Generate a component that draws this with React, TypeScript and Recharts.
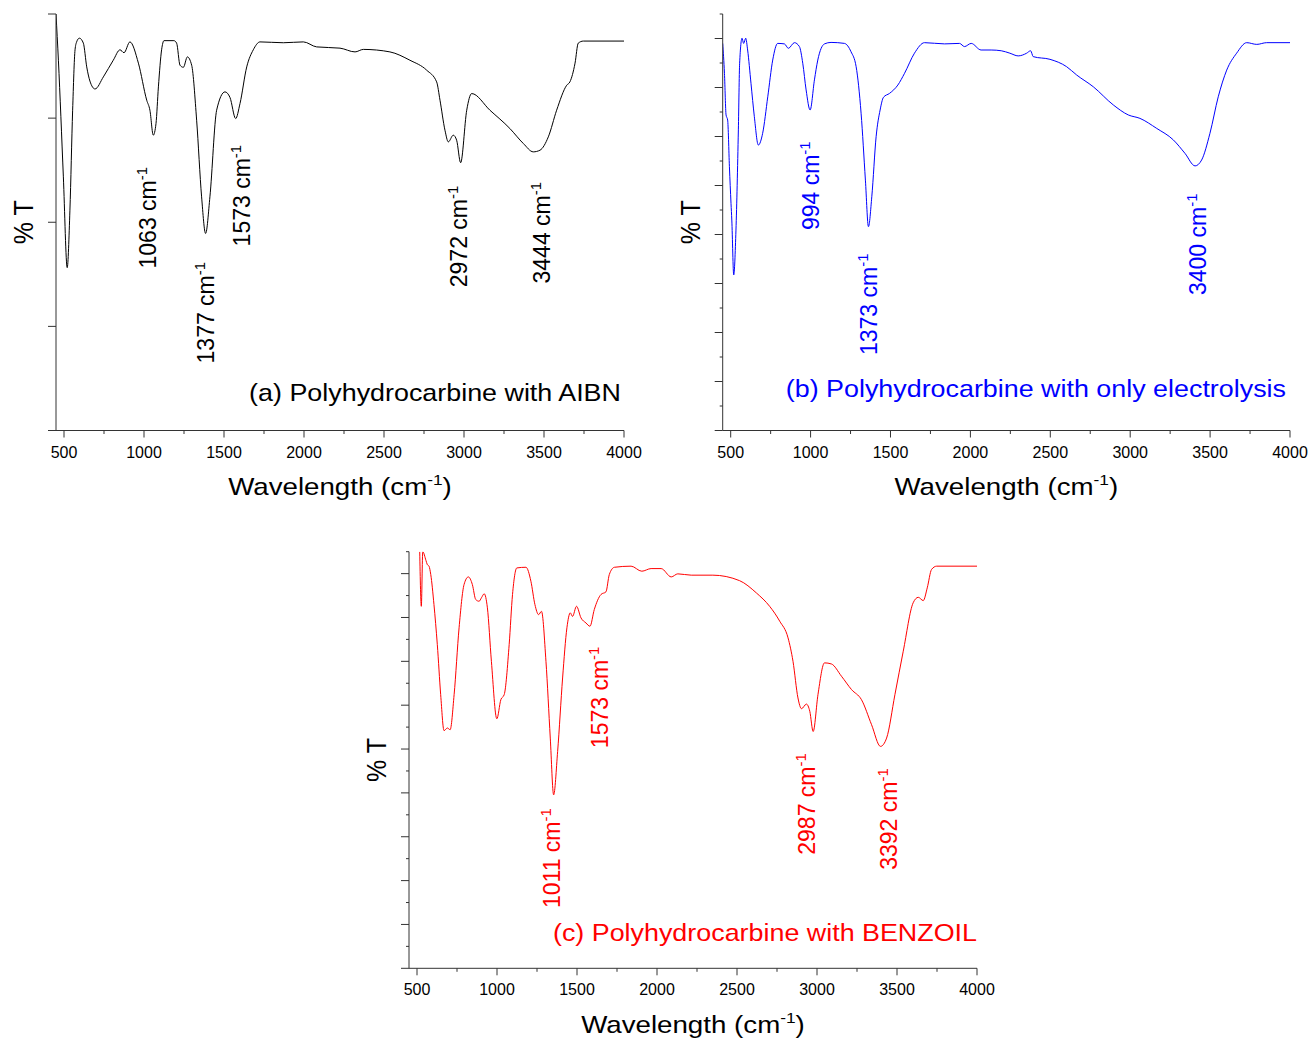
import React from "react";
import { LineChart, Line, XAxis, YAxis, ReferenceDot } from "recharts";

const FONT = '"Liberation Sans", Arial, Helvetica, sans-serif';
const AXIS = "#333";
const SX = 1.12; // the source figure is a bit stretched sideways

// wavenumber axis, shared by the three spectra
const xTicks = [500, 750, 1000, 1250, 1500, 1750, 2000, 2250, 2500, 2750, 3000, 3250, 3500, 3750, 4000];

// (a) with AIBN, %T on a 0..100 scale
const wnA = [450, 465, 496, 520, 537, 554, 569, 579, 596, 621, 642, 662, 694, 746, 808, 850, 875, 912, 965, 1017, 1037, 1058, 1075, 1090, 1110, 1125, 1187, 1204, 1225, 1246, 1271, 1298, 1329, 1360, 1385, 1412, 1454, 1506, 1537, 1573, 1600, 1642, 1683, 1725, 1871, 1996, 2079, 2225, 2319, 2371, 2537, 2662, 2767, 2829, 2850, 2881, 2902, 2933, 2954, 2979, 3017, 3048, 3162, 3287, 3371, 3433, 3475, 3527, 3579, 3642, 3662, 3694, 3714, 3746, 4000];
const tA = [100, 88.9, 60.9, 39.1, 52.9, 76.9, 91.4, 93.3, 94.2, 93.0, 87.3, 83.9, 82.0, 84.9, 88.9, 91.4, 90.7, 93.3, 88.2, 79.3, 76.9, 70.9, 73.7, 82.5, 91.4, 93.6, 93.6, 93.0, 87.7, 87.2, 89.7, 87.7, 74.5, 56.1, 47.3, 56.1, 76.9, 81.3, 80.0, 74.9, 78.5, 87.3, 91.4, 93.3, 93.1, 93.3, 92.1, 91.8, 90.9, 91.5, 90.9, 88.9, 86.5, 83.7, 79.3, 72.1, 69.3, 70.9, 69.7, 64.3, 76.9, 80.9, 76.9, 72.5, 68.9, 66.9, 67.3, 70.5, 76.9, 82.9, 83.7, 88.2, 93.0, 93.5, 93.5];
const yTicksA = [0, 25, 50, 75, 100];
const peaksA = [
  { label: "1063", wn: 1075, t: 38.9 },
  { label: "1377", wn: 1435, t: 16.1 },
  { label: "1573", wn: 1662, t: 44.2 },
  { label: "2972", wn: 3019, t: 34.4 },
  { label: "3444", wn: 3537, t: 35.3 },
];

// (b) only electrolysis, %T in tick units
const wnB = [450, 461, 471, 481, 492, 502, 507, 519, 533, 548, 556, 571, 581, 594, 606, 627, 648, 673, 700, 732, 763, 794, 836, 861, 899, 930, 951, 972, 997, 1024, 1045, 1087, 1128, 1212, 1253, 1285, 1316, 1343, 1362, 1383, 1410, 1435, 1456, 1494, 1546, 1588, 1650, 1713, 1838, 1932, 1963, 2005, 2067, 2130, 2193, 2247, 2299, 2352, 2377, 2393, 2498, 2602, 2665, 2769, 2894, 2988, 3061, 3166, 3270, 3343, 3406, 3447, 3499, 3551, 3604, 3666, 3729, 3792, 3854, 4000];
const tB = [15.8, 14.58, 12.88, 12.67, 10.77, 9.27, 8.59, 6.35, 8.18, 12.27, 14.99, 16.01, 15.8, 16.01, 15.53, 14.17, 12.81, 11.65, 12.13, 13.62, 15.12, 15.8, 15.78, 15.6, 15.83, 15.67, 14.99, 13.9, 13.08, 14.31, 15.12, 15.78, 15.84, 15.8, 15.46, 14.85, 12.95, 10.22, 8.32, 9.54, 11.99, 13.08, 13.6, 13.76, 14.1, 14.58, 15.4, 15.83, 15.78, 15.8, 15.67, 15.8, 15.53, 15.53, 15.5, 15.4, 15.29, 15.4, 15.5, 15.26, 15.15, 14.85, 14.51, 14.03, 13.29, 12.88, 12.74, 12.33, 11.86, 11.31, 10.8, 11.04, 12.13, 13.62, 14.71, 15.4, 15.83, 15.76, 15.83, 15.83];
const yTicksB = [0, 1, 2, 3, 4, 5, 6, 7, 8, 9, 10, 11, 12, 13, 14, 15, 16, 17];
const peaksB = [
  { label: "994", wn: 1053, t: 8.18 },
  { label: "1373", wn: 1415, t: 3.08 },
  { label: "3400", wn: 3474, t: 5.53 },
];

// (c) with BENZOIL
const wnC = [517, 527, 536, 556, 564, 575, 586, 606, 627, 648, 669, 690, 707, 732, 763, 794, 821, 846, 867, 888, 903, 920, 940, 965, 999, 1024, 1045, 1076, 1097, 1124, 1181, 1212, 1237, 1260, 1278, 1306, 1333, 1354, 1379, 1410, 1437, 1458, 1472, 1497, 1525, 1556, 1581, 1608, 1650, 1681, 1702, 1734, 1838, 1905, 1963, 2026, 2089, 2130, 2214, 2349, 2516, 2621, 2704, 2767, 2819, 2850, 2881, 2903, 2934, 2955, 2976, 3006, 3047, 3090, 3153, 3216, 3278, 3341, 3397, 3435, 3487, 3539, 3601, 3633, 3664, 3689, 3716, 3748, 4000];
const tC = [19, 16.51, 19, 18.6, 18.42, 18.34, 17.96, 16.59, 14.76, 12.48, 10.84, 10.96, 10.88, 12.48, 15.53, 17.5, 17.85, 17.5, 16.82, 16.74, 16.9, 17.08, 16.44, 14.0, 11.38, 12.25, 12.48, 14.76, 17.05, 18.26, 18.29, 17.65, 16.59, 16.13, 16.28, 14.0, 10.5, 7.91, 9.89, 13.24, 15.53, 16.21, 16.05, 16.51, 15.98, 15.75, 15.6, 16.36, 17.05, 17.17, 17.96, 18.29, 18.34, 18.11, 18.23, 18.23, 17.85, 17.99, 17.93, 17.93, 17.68, 17.12, 16.51, 15.83, 15.07, 14.0, 12.33, 11.84, 12.05, 11.72, 10.8, 12.48, 13.93, 13.88, 13.32, 12.71, 12.25, 11.11, 10.12, 10.5, 12.48, 14.46, 16.67, 16.92, 16.77, 17.35, 18.19, 18.34, 18.34];
const yTicksC = [0, 1, 2, 3, 4, 5, 6, 7, 8, 9, 10, 11, 12, 13, 14, 15, 16, 17, 18, 19];
const peaksC = [
  { label: "1011", wn: 1392, t: 2.75 },
  { label: "1573", wn: 1693, t: 10.04 },
  { label: "2987", wn: 2986, t: 5.18 },
  { label: "3392", wn: 3499, t: 4.49 },
];

function XTick({ x, y, payload }: any) {
  const major = payload.value % 500 === 0;
  return (
    <g>
      <line x1={x} x2={x} y1={y} y2={y + (major ? 7 : 3.5)} stroke={AXIS} />
      {major && (
        <text x={x} y={y + 27} textAnchor="middle" fontSize={16} fontFamily={FONT} fill="#000">
          {payload.value}
        </text>
      )}
    </g>
  );
}

function YTick({ x, y, payload, step }: any) {
  const major = payload.value % step === 0;
  return <line x1={x} x2={x - (major ? 8 : 3)} y1={y} y2={y} stroke={AXIS} />;
}

function XTitle({ viewBox }: any) {
  const cx = viewBox.x + viewBox.width / 2;
  const y = viewBox.y + 64.5;
  return (
    <g transform={`translate(${cx},${y}) scale(1.155,1)`}>
      <text textAnchor="middle" fontSize={24} fontFamily={FONT} fill="#000">
        Wavelength (cm<tspan dy={-10} fontSize={15}>-1</tspan>
        <tspan dy={10}>)</tspan>
      </text>
    </g>
  );
}

function YTitle({ viewBox }: any) {
  const x = viewBox.x + viewBox.width - 23;
  const y = viewBox.y + viewBox.height / 2;
  return (
    <g transform={`translate(${x},${y}) scale(${SX},1) rotate(-90)`}>
      <text textAnchor="middle" fontSize={25} fontFamily={FONT} fill="#000">
        % T
      </text>
    </g>
  );
}

function PeakLabel({ cx, cy, text, color }: any) {
  return (
    <text transform={`translate(${cx},${cy}) rotate(-90)`} fontSize={23} fontFamily={FONT} fill={color}>
      {text} cm<tspan dy={-9} fontSize={15}>-1</tspan>
    </text>
  );
}

function PanelTitle({ cx, cy, text, color }: any) {
  return (
    <g transform={`translate(${cx},${cy}) scale(${SX},1)`}>
      <text textAnchor="end" fontSize={24} fontFamily={FONT} fill={color}>
        {text}
      </text>
    </g>
  );
}

type PanelProps = {
  wn: number[];
  t: number[];
  yTicks: number[];
  yStep: number;
  peaks: { label: string; wn: number; t: number }[];
  title: string;
  titleAt: [number, number];
  color: string;
  width: number;
  height: number;
  margin: { top: number; right: number; bottom: number; left: number };
};

function Spectrum(p: PanelProps) {
  const data = p.wn.map((w, i) => ({ wn: w, t: p.t[i] }));
  const yMax = p.yTicks[p.yTicks.length - 1];
  // axes take 1px each, so the plot box sits exactly at margin + 1
  const margin = { ...p.margin, left: p.margin.left - 1, bottom: p.margin.bottom - 1 };
  return (
    <LineChart width={p.width} height={p.height} data={data} margin={margin}>
      <XAxis
        type="number"
        dataKey="wn"
        domain={[450, 4000]}
        ticks={xTicks}
        interval={0}
        height={1}
        tickSize={0}
        tickMargin={0}
        tickLine={false}
        tick={<XTick />}
        axisLine={{ stroke: AXIS }}
        allowDataOverflow
        label={<XTitle />}
      />
      <YAxis
        type="number"
        domain={[0, yMax]}
        ticks={p.yTicks}
        interval={0}
        width={1}
        tickSize={0}
        tickMargin={0}
        tickLine={false}
        tick={<YTick step={p.yStep} />}
        axisLine={{ stroke: AXIS }}
        allowDataOverflow
        label={<YTitle />}
      />
      <Line type="monotone" dataKey="t" stroke={p.color} strokeWidth={1} dot={false} isAnimationActive={false} />
      {p.peaks.map((pk) => (
        <ReferenceDot
          key={pk.label + pk.wn}
          x={pk.wn}
          y={pk.t}
          r={0}
          ifOverflow="visible"
          shape={(s: any) => <PeakLabel cx={s.cx} cy={s.cy} text={pk.label} color={p.color} />}
        />
      ))}
      <ReferenceDot
        x={p.titleAt[0]}
        y={p.titleAt[1]}
        r={0}
        ifOverflow="visible"
        shape={(s: any) => <PanelTitle cx={s.cx} cy={s.cy} text={p.title} color={p.color} />}
      />
    </LineChart>
  );
}

export default function App() {
  return (
    <div style={{ position: "absolute", left: 0, top: 0, width: 1311, height: 1040, background: "#fff" }}>
      <div style={{ position: "absolute", left: 0, top: 0 }}>
        <Spectrum
          wn={wnA}
          t={tA}
          yTicks={yTicksA}
          yStep={25}
          peaks={peaksA}
          title="(a) Polyhydrocarbine with AIBN"
          titleAt={[3981, 7.2]}
          color="#000000"
          width={660}
          height={510}
          margin={{ top: 14, right: 36, bottom: 79.5, left: 56 }}
        />
      </div>
      <div style={{ position: "absolute", left: 660, top: 0 }}>
        <Spectrum
          wn={wnB}
          t={tB}
          yTicks={yTicksB}
          yStep={2}
          peaks={peaksB}
          title="(b) Polyhydrocarbine with only electrolysis"
          titleAt={[3975, 1.37]}
          color="#0000FF"
          width={651}
          height={510}
          margin={{ top: 14, right: 21, bottom: 79.5, left: 62.7 }}
        />
      </div>
      <div style={{ position: "absolute", left: 340, top: 520 }}>
        <Spectrum
          wn={wnC}
          t={tC}
          yTicks={yTicksC}
          yStep={2}
          peaks={peaksC}
          title="(c) Polyhydrocarbine with BENZOIL"
          titleAt={[4000, 1.25]}
          color="#FF0000"
          width={680}
          height={520}
          margin={{ top: 31.7, right: 43, bottom: 71.7, left: 69 }}
        />
      </div>
    </div>
  );
}
